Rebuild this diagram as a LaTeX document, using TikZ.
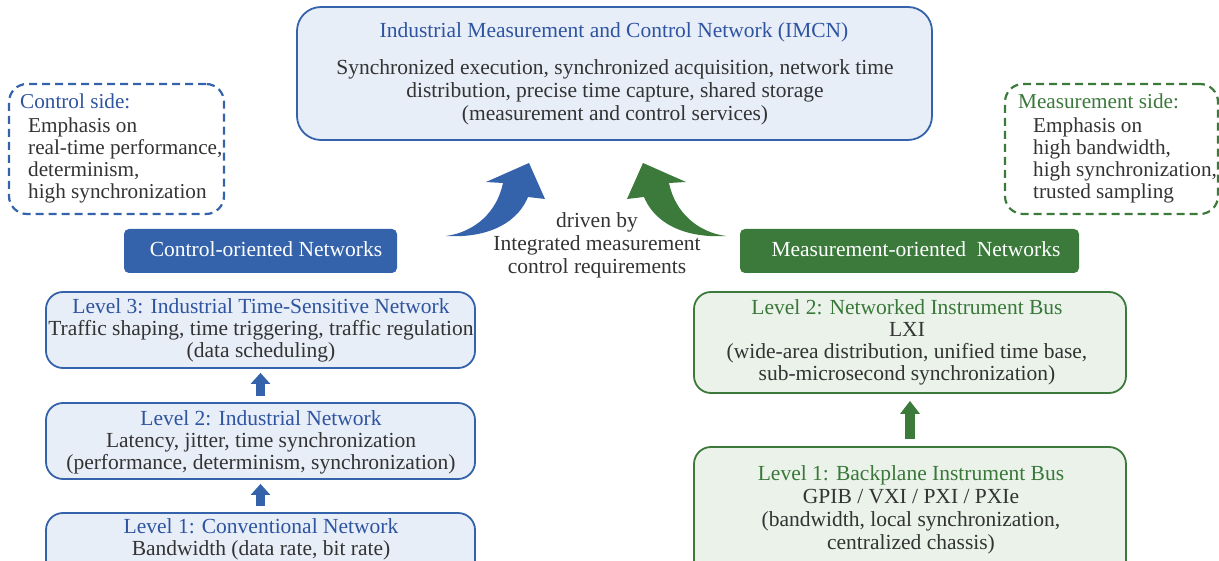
\documentclass[tikz,border=0pt]{standalone}
\usepackage{fontspec}
\setmainfont{Liberation Serif}
\usetikzlibrary{arrows.meta}
\definecolor{cblue}{RGB}{52,99,171}
\definecolor{tblue}{RGB}{46,84,160}
\definecolor{lblue}{RGB}{232,238,248}
\definecolor{cgreen}{RGB}{59,122,59}
\definecolor{tgreen}{RGB}{58,120,58}
\definecolor{lgreen}{RGB}{234,242,234}
\definecolor{tdark}{RGB}{51,51,51}
\newcommand{\lsA}{\rule[-5.5pt]{0pt}{23pt}}
\newcommand{\lsB}{\rule[-5pt]{0pt}{22pt}}
\tikzset{
  txt/.style={font=\fontsize{21.5}{23}\selectfont, inner sep=0pt, text=tdark, align=center},
  txtB/.style={txt, font=\fontsize{21.5}{22}\selectfont},
  txtS/.style={txt, font=\fontsize{21.2}{22}\selectfont},
  frameB/.style={draw=cblue, line width=1.8pt, fill=lblue, rounded corners=17pt, inner sep=0pt},
  frameG/.style={draw=cgreen, line width=1.8pt, fill=lgreen, rounded corners=17pt, inner sep=0pt},
  dashB/.style={draw=cblue, line width=2.2pt, dash pattern=on 8pt off 5pt, rounded corners=18pt, inner sep=0pt},
  dashG/.style={draw=cgreen, line width=2.2pt, dash pattern=on 8pt off 5pt, rounded corners=18pt, inner sep=0pt},
  headB/.style={fill=cblue, draw=none, rounded corners=5pt, inner sep=0pt},
  headG/.style={fill=cgreen, draw=none, rounded corners=5pt, inner sep=0pt},
  uparB/.style={draw=cblue, line width=9pt, -{Triangle[width=19pt,length=11pt]}},
  uparG/.style={draw=cgreen, line width=10pt, -{Triangle[width=19pt,length=13pt]}},
}
\begin{document}
\begin{tikzpicture}[x=1pt, y=-1pt]
\useasboundingbox (0,0) rectangle (1219,561);
\clip (0,0) rectangle (1219,561);

% top box
\node[frameB, rounded corners=24pt, minimum width=635pt, minimum height=133pt] (top) at (614.5,73.5) {};
\node[txt, text=tblue] (topt) at (614,32) {\lsA Industrial Measurement and Control Network (IMCN)};
\node[txt] (topb) at (615,92) {\lsA Synchronized execution, synchronized acquisition, network time\\
\lsA distribution, precise time capture, shared storage\\
\lsA (measurement and control services)};

% side boxes
\node[dashB, minimum width=215pt, minimum height=130pt] (cside) at (116.5,149) {};
\node[txtS, anchor=west, text=tblue] (csidet) at (20,103) {\lsB Control side:};
\node[txtS, anchor=west, align=left] (csideb) at (28,159.5) {\lsB Emphasis on\\ \lsB real-time performance,\\ \lsB determinism,\\ \lsB high synchronization};

\node[dashG, minimum width=213pt, minimum height=130pt] (mside) at (1111.5,149) {};
\node[txtS, anchor=west, text=tgreen] (msidet) at (1018,103) {\lsB Measurement side:};
\node[txtS, anchor=west, align=left] (msideb) at (1033,159.5) {\lsB Emphasis on\\ \lsB high bandwidth,\\ \lsB high synchronization,\\ \lsB trusted sampling};

% header boxes
\node[headB, minimum width=273pt, minimum height=44pt] (chead) at (260.5,251) {};
\node[txt, text=white] (cheadt) at (266,251) {\lsA Control-oriented Networks};
\node[headG, minimum width=339pt, minimum height=44pt] (mhead) at (909.5,251) {};
\node[txt, text=white] (mheadt) at (916,251) {\lsA Measurement-oriented\ \ Networks};

% curved arrows
\fill[cblue] (446,236) .. controls (475,232) and (497,212) .. (503,183) -- (486,182) -- (529,163) -- (545,199) -- (528,197) .. controls (515,228) and (480,238) .. (446,236) -- cycle;
\fill[cgreen] (726,236) .. controls (697,232) and (675,212) .. (669,183) -- (686,182) -- (643,163) -- (627,199) -- (644,197) .. controls (657,228) and (692,238) .. (726,236) -- cycle;
\node[txt] (drv) at (597,245) {\lsA driven by\\ \lsA Integrated measurement\\ \lsA control requirements};

% left column
\node[frameB, minimum width=429pt, minimum height=76pt] (l3) at (260.5,330) {};
\node[txtB] (l3t) at (261,330) {\lsB\textcolor{tblue}{Level 3: Industrial Time-Sensitive Network}\\
\lsB Traffic shaping, time triggering, traffic regulation\\ \lsB (data scheduling)};
\node[frameB, minimum width=429pt, minimum height=76pt] (l2) at (260.5,441) {};
\node[txtB] (l2t) at (261,441.5) {\lsB\textcolor{tblue}{Level 2: Industrial Network}\\
\lsB Latency, jitter, time synchronization\\ \lsB (performance, determinism, synchronization)};
\node[frameB, minimum width=429pt, minimum height=80pt] (l1) at (260.5,553) {};
\node[txtB] (l1t) at (261,538.5) {\lsB\textcolor{tblue}{Level 1: Conventional Network}\\
\lsB Bandwidth (data rate, bit rate)};
\draw[uparB, shorten <=6pt, shorten >=4pt] (l2.north) -- (l3.south);
\draw[uparB, shorten <=6pt, shorten >=4pt] (l1.north) -- (l2.south);

% right column
\node[frameG, minimum width=432pt, minimum height=101pt] (r2) at (910,342.5) {};
\node[txtB] (r2t) at (907,341.5) {\lsB\textcolor{tgreen}{Level 2: Networked Instrument Bus}\\
\lsB LXI\\ \lsB (wide-area distribution, unified time base,\\ \lsB sub-microsecond synchronization)};
\node[frameG, minimum width=432pt, minimum height=130pt] (r1) at (910,512) {};
\node[txt] (r1t) at (911,509) {\lsA\textcolor{tgreen}{Level 1: Backplane Instrument Bus}\\
\lsA GPIB / VXI / PXI / PXIe\\ \lsA (bandwidth, local synchronization,\\ \lsA centralized chassis)};
\draw[uparG, shorten <=7pt, shorten >=7pt] (r1.north) -- (r2.south);
\end{tikzpicture}
\end{document}
